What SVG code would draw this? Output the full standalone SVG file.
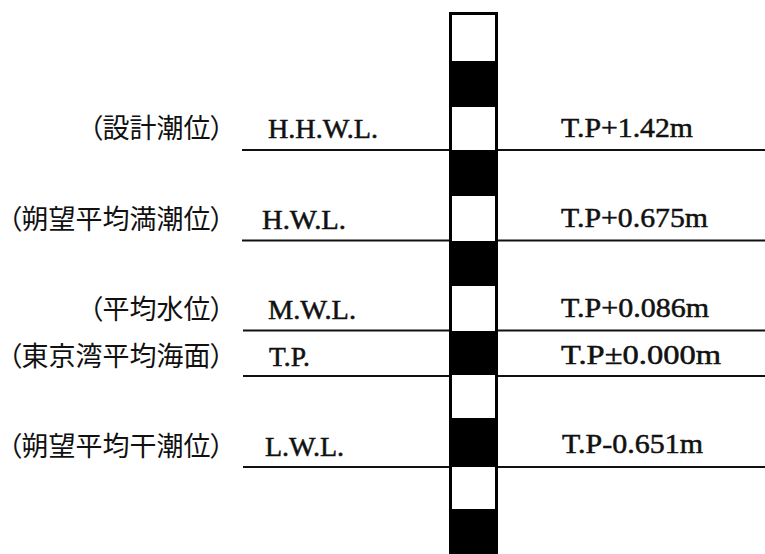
<svg xmlns="http://www.w3.org/2000/svg" width="765" height="554" viewBox="0 0 765 554">
<style>
.jp{font-family:"Noto Sans CJK JP","Noto Sans CJK SC",sans-serif;font-size:27px;font-weight:400;fill:#111;text-anchor:end;font-feature-settings:"palt"}
.lt{font-family:"Liberation Serif","Times New Roman",serif;font-size:27.5px;fill:#111;stroke:#111;stroke-width:0.5}
.lv{font-family:"Liberation Serif","Times New Roman",serif;font-size:27.5px;fill:#111;stroke:#111;stroke-width:0.5}
.ln{stroke:#111;stroke-width:2.2;fill:none}
.blk{fill:#000}
</style>
<rect width="765" height="554" fill="#fff"/>
<g id="connectors">
<line class="ln" x1="242" y1="150" x2="765" y2="150"/>
<line class="ln" x1="242" y1="240.5" x2="765" y2="240.5"/>
<line class="ln" x1="243" y1="330.5" x2="765" y2="330.5"/>
<line class="ln" x1="243" y1="376" x2="765" y2="376"/>
<line class="ln" x1="243" y1="467" x2="765" y2="467"/>
</g>
<g id="staff">
<rect x="450.5" y="13.5" width="46" height="560" fill="#fff" stroke="#000" stroke-width="3"/>
<rect class="blk" x="450" y="61" width="47" height="46"/>
<rect class="blk" x="450" y="150" width="47" height="46"/>
<rect class="blk" x="450" y="241" width="47" height="45"/>
<rect class="blk" x="450" y="331" width="47" height="44"/>
<rect class="blk" x="450" y="418" width="47" height="49"/>
<rect class="blk" x="450" y="509" width="47" height="45"/>
</g>
<g id="hhwl">
<text class="jp" x="224" y="138">（設計潮位）</text>
<text class="lt" x="268" y="138" textLength="110" lengthAdjust="spacingAndGlyphs">H.H.W.L.</text>
<text class="lv" x="561" y="137" textLength="132" lengthAdjust="spacingAndGlyphs">T.P+1.42m</text>
</g>
<g id="hwl">
<text class="jp" x="224" y="229">（朔望平均満潮位）</text>
<text class="lt" x="262" y="229" textLength="84" lengthAdjust="spacingAndGlyphs">H.W.L.</text>
<text class="lv" x="561" y="227" textLength="147" lengthAdjust="spacingAndGlyphs">T.P+0.675m</text>
</g>
<g id="mwl">
<text class="jp" x="224" y="319">（平均水位）</text>
<text class="lt" x="268" y="319" textLength="88" lengthAdjust="spacingAndGlyphs">M.W.L.</text>
<text class="lv" x="561" y="317" textLength="148" lengthAdjust="spacingAndGlyphs">T.P+0.086m</text>
</g>
<g id="tp">
<text class="jp" x="224" y="366">（東京湾平均海面）</text>
<text class="lt" x="269" y="366">T.P.</text>
<text class="lv" x="561" y="364" textLength="160" lengthAdjust="spacingAndGlyphs">T.P±0.000m</text>
</g>
<g id="lwl">
<text class="jp" x="224" y="456">（朔望平均干潮位）</text>
<text class="lt" x="265" y="456" textLength="79" lengthAdjust="spacingAndGlyphs">L.W.L.</text>
<text class="lv" x="562" y="453" textLength="141" lengthAdjust="spacingAndGlyphs">T.P-0.651m</text>
</g>
</svg>
